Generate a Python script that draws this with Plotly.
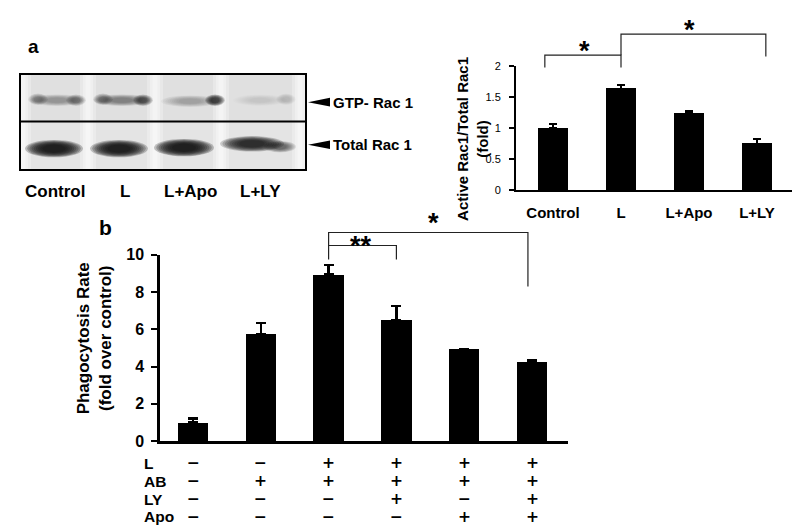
import plotly.graph_objects as go

W, H = 800, 532

# ---------------- data ----------------
rac_groups = ["Control", "L", "L+Apo", "L+LY"]
rac_values = [1.0, 1.64, 1.24, 0.75]
rac_err = [0.07, 0.06, 0.04, 0.07]
rac_yticks = [0, 0.5, 1, 1.5, 2]
rac_yticklabels = ["0", "0.5", "1", "1.5", "2"]

phago_values = [1.0, 5.75, 8.95, 6.5, 4.95, 4.25]
phago_err = [0.2, 0.6, 0.5, 0.75, 0.0, 0.08]
phago_yticks = [0, 2, 4, 6, 8, 10]
table_rows = ["L", "AB", "LY", "Apo"]
table_signs = [
    ["-", "-", "+", "+", "+", "+"],
    ["-", "+", "+", "+", "+", "+"],
    ["-", "-", "-", "+", "-", "+"],
    ["-", "-", "-", "-", "+", "+"],
]

blot_lanes = ["Control", "L", "L+Apo", "L+LY"]
gtp_band = [0.35, 0.45, 0.3, 0.1]
total_band = [0.92, 0.9, 0.92, 0.85]

# ---------------- geometry helpers ----------------
def PX(px):
    return px / W

def PY(py):
    return 1 - py / H

# top-right chart frame (pixels)
TX0, TX1 = 508, 785
TC0, TSP = 545, 68.0
TXR = [(TX0 - TC0) / TSP, (TX1 - TC0) / TSP]
TY0, TY1 = 180, 52
TYR = [0, 2]

# bottom chart frame (pixels)
BX0, BX1 = 152, 560
BC0, BSP = 185, 67.8
BXR = [(BX0 - BC0) / BSP, (BX1 - BC0) / BSP]
BY0, BY1 = 439, 246.7
BYR = [0, 10]

def tx(v):
    return PX(TX0 + (v - TXR[0]) / (TXR[1] - TXR[0]) * (TX1 - TX0))

def ty(v):
    return PY(TY0 - (v - TYR[0]) / (TYR[1] - TYR[0]) * (TY0 - TY1))

def bx(v):
    return PX(BX0 + (v - BXR[0]) / (BXR[1] - BXR[0]) * (BX1 - BX0))

def by(v):
    return PY(BY0 - (v - BYR[0]) / (BYR[1] - BYR[0]) * (BY0 - BY1))

FONT = "Liberation Sans, Arial, sans-serif"
SIGNFONT = "DejaVu Sans, Liberation Sans, sans-serif"

fig = go.Figure()

fig.add_trace(go.Bar(
    x=list(range(len(rac_values))), y=rac_values, width=0.43,
    marker=dict(color="black", line=dict(width=0)),
    error_y=dict(type="data", array=rac_err, arrayminus=[0] * len(rac_err),
                 symmetric=False, color="black", thickness=2, width=4),
    xaxis="x", yaxis="y", showlegend=False,
))

fig.add_trace(go.Bar(
    x=list(range(len(phago_values))), y=phago_values, width=0.45,
    marker=dict(color="black", line=dict(width=0)),
    error_y=dict(type="data", array=phago_err, arrayminus=[0] * len(phago_err),
                 symmetric=False, color="black", thickness=2.5, width=5),
    xaxis="x2", yaxis="y2", showlegend=False,
))

shapes = []
annotations = []

# ---------------- western blot (panel a, left) ----------------
BL, BR, BT, BM, BB = 12, 298, 60, 109, 159
shapes.append(dict(type="rect", xref="paper", yref="paper",
                   x0=PX(BL), x1=PX(BR), y0=PY(BM), y1=PY(BT),
                   fillcolor="#e0e0e0", line=dict(width=0), layer="below"))
shapes.append(dict(type="rect", xref="paper", yref="paper",
                   x0=PX(BL), x1=PX(BR), y0=PY(BB), y1=PY(BM),
                   fillcolor="#e4e4e4", line=dict(width=0), layer="below"))
# lighter streaks between lanes
for sx in [15, 80, 147, 213, 292]:
    for hw, a in [(8, 0.25), (5, 0.3), (2.5, 0.35)]:
        shapes.append(dict(type="rect", xref="paper", yref="paper",
                           x0=PX(sx - hw), x1=PX(sx + hw), y0=PY(BB - 1), y1=PY(BT + 1),
                           fillcolor="rgba(255,255,255,%.2f)" % a, line=dict(width=0),
                           layer="below"))

def blob(cx, cy, hw, hh, inten, layers=9):
    a = 1 - (1 - min(inten, 0.97)) ** (1.0 / layers)
    for k in range(layers):
        s = 1.0 - 0.075 * k
        sh = 1.0 - 0.07 * k
        shapes.append(dict(type="circle", xref="paper", yref="paper",
                           x0=PX(cx - hw * s), x1=PX(cx + hw * s),
                           y0=PY(cy + hh * sh), y1=PY(cy - hh * sh),
                           fillcolor="rgba(15,15,15,%.3f)" % a,
                           line=dict(width=0), layer="below"))

# total Rac 1 bands
total_geom = [(46, 137, 29, 9), (111, 137, 29, 9), (176, 136, 30, 9), (244, 132, 32, 8)]
for (cx, cy, hw, hh), it in zip(total_geom, total_band):
    blob(cx, cy, hw, hh, it)
blob(272, 135, 16, 6, 0.55)

# GTP-Rac 1 bands (diffuse band with darker lobes)
gtp_geom = [(49, 87, 27, 6), (114, 87, 28, 6), (182, 88, 29, 6), (252, 87, 27, 6)]
for (cx, cy, hw, hh), it in zip(gtp_geom, gtp_band):
    blob(cx, cy, hw, hh, it)
gtp_lobes = [(30, 86, 0.4), (68, 87, 0.45), (95, 86, 0.45), (135, 87, 0.6),
             (207, 87, 0.75), (278, 86, 0.15)]
for lx, ly, it in gtp_lobes:
    blob(lx, ly, 10, 6, it)

shapes.append(dict(type="rect", xref="paper", yref="paper",
                   x0=PX(BL), x1=PX(BR), y0=PY(BB), y1=PY(BT),
                   line=dict(color="black", width=2), fillcolor="rgba(0,0,0,0)"))
shapes.append(dict(type="line", xref="paper", yref="paper",
                   x0=PX(BL), x1=PX(BR), y0=PY(BM), y1=PY(BM),
                   line=dict(color="black", width=2)))

# arrows + labels
for yc, lab in [(89, "GTP- Rac 1"), (133, "Total Rac 1")]:
    shapes.append(dict(type="path", xref="paper", yref="paper",
                       path="M %f %f L %f %f L %f %f Z" % (PX(300), PY(yc), PX(322), PY(yc - 4.5), PX(322), PY(yc + 4.5)),
                       fillcolor="black", line=dict(width=0)))
    annotations.append(dict(xref="paper", yref="paper", x=PX(323), y=PY(yc),
                            xanchor="left", yanchor="middle", showarrow=False,
                            text="<b>%s</b>" % lab, font=dict(size=15, family=FONT, color="black")))

lane_label_x = [47, 117, 182, 253]
for lx, lab in zip(lane_label_x, blot_lanes):
    annotations.append(dict(xref="paper", yref="paper", x=PX(lx), y=PY(181),
                            xanchor="center", yanchor="middle", showarrow=False,
                            text="<b>%s</b>" % lab, font=dict(size=17, family=FONT, color="black")))

# panel letters
annotations.append(dict(xref="paper", yref="paper", x=PX(25), y=PY(31), showarrow=False,
                        xanchor="center", yanchor="middle",
                        text="<b>a</b>", font=dict(size=19, family=FONT, color="black")))
annotations.append(dict(xref="paper", yref="paper", x=PX(97), y=PY(218), showarrow=False,
                        xanchor="center", yanchor="middle",
                        text="<b>b</b>", font=dict(size=21, family=FONT, color="black")))

# ---------------- significance brackets ----------------
def bracket(fx, fy, i, j, level, drop_i, drop_j, width=1.2):
    pts = [(fx(i), fy(drop_i)), (fx(i), fy(level)), (fx(j), fy(level)), (fx(j), fy(drop_j))]
    path = "M " + " L ".join("%f %f" % p for p in pts)
    shapes.append(dict(type="path", xref="paper", yref="paper", path=path,
                       line=dict(color="#222", width=width)))

def star(fx, fy, x, y, txt, size=27):
    annotations.append(dict(xref="paper", yref="paper", x=fx(x), y=fy(y), showarrow=False,
                            xanchor="center", yanchor="middle", text="<b>%s</b>" % txt,
                            font=dict(size=size, family=FONT, color="black")))

# top chart
bracket(tx, ty, -0.12, 1, 2.18, 1.98, 1.98)
bracket(tx, ty, 1, 3.13, 2.52, 2.18, 2.16)
star(tx, ty, 0.47, 2.24, "*")
star(tx, ty, 2.0, 2.58, "*")

# bottom chart
bracket(bx, by, 2, 3.0, 10.5, 9.75, 9.75)
bracket(bx, by, 2, 4.94, 11.2, 10.5, 8.3)
star(bx, by, 2.48, 10.5, "**")
star(bx, by, 3.55, 11.7, "*")

# ---------------- axis titles ----------------
annotations.append(dict(xref="paper", yref="paper", x=PX(465), y=PY(127), showarrow=False,
                        textangle=-90, xanchor="center", yanchor="middle",
                        text="<b>Active Rac1/Total Rac1<br>(fold)</b>",
                        font=dict(size=15, family=FONT, color="black")))
annotations.append(dict(xref="paper", yref="paper", x=PX(86), y=PY(333), showarrow=False,
                        textangle=-90, xanchor="center", yanchor="middle",
                        text="<b>Phagocytosis Rate<br>(fold over control)</b>",
                        font=dict(size=17, family=FONT, color="black")))

# ---------------- treatment table ----------------
row_y = [462, 480.5, 499, 517.5]
for r, (lab, yy) in enumerate(zip(table_rows, row_y)):
    annotations.append(dict(xref="paper", yref="paper", x=PX(134), y=PY(yy), showarrow=False,
                            xanchor="left", yanchor="middle", text="<b>%s</b>" % lab,
                            font=dict(size=15.5, family=FONT, color="black")))
    for c, s in enumerate(table_signs[r]):
        annotations.append(dict(xref="paper", yref="paper", x=bx(c), y=PY(yy), showarrow=False,
                                xanchor="center", yanchor="middle",
                                text="<b>%s</b>" % ("+" if s == "+" else "\u2212"),
                                font=dict(size=15.5, family=SIGNFONT, color="black")))

fig.update_layout(
    width=W, height=H, margin=dict(l=0, r=0, t=0, b=0),
    paper_bgcolor="white", plot_bgcolor="rgba(0,0,0,0)",
    font=dict(family=FONT, color="black"),
    bargap=0, showlegend=False,
    shapes=shapes, annotations=annotations,
    xaxis=dict(domain=[PX(TX0), PX(TX1)], range=TXR, anchor="y",
               showgrid=False, zeroline=False, showline=True, linecolor="black", linewidth=2,
               ticks="", tickvals=list(range(len(rac_groups))),
               ticktext=["<b>%s</b>" % g for g in rac_groups],
               tickfont=dict(size=15, family=FONT, color="black"), ticklabelstandoff=8),
    yaxis=dict(domain=[PY(TY0), PY(TY1)], range=TYR, anchor="x",
               showgrid=False, zeroline=False, showline=True, linecolor="black", linewidth=2,
               ticks="outside", ticklen=5, tickwidth=1.5, tickcolor="black",
               tickvals=rac_yticks, ticktext=rac_yticklabels,
               tickfont=dict(size=11, family=FONT, color="black"), ticklabelstandoff=6),
    xaxis2=dict(domain=[PX(BX0), PX(BX1)], range=BXR, anchor="y2",
                showgrid=False, zeroline=False, showline=True, linecolor="black", linewidth=2.5,
                ticks="", showticklabels=False),
    yaxis2=dict(domain=[PY(BY0), PY(BY1)], range=BYR, anchor="x2",
                showgrid=False, zeroline=False, showline=True, linecolor="black", linewidth=2.5,
                ticks="outside", ticklen=6, tickwidth=2, tickcolor="black",
                tickvals=phago_yticks, ticktext=["<b>%d</b>" % t for t in phago_yticks],
                tickfont=dict(size=16, family=FONT, color="black"), ticklabelstandoff=4),
)

fig.write_html("out.html")
